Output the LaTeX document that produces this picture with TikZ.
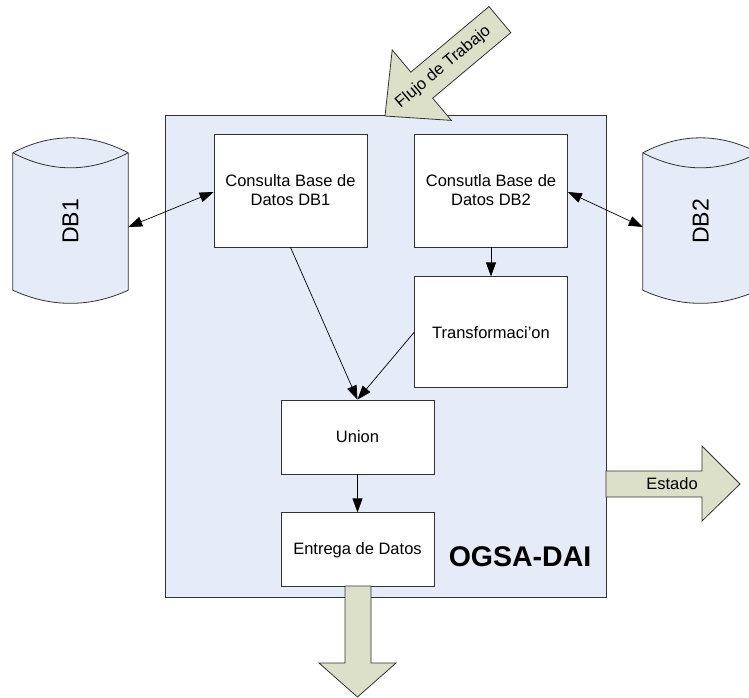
\documentclass[tikz,border=0pt]{standalone}
\usepackage{fontspec}
\setmainfont{Liberation Sans}
\usetikzlibrary{arrows.meta,positioning,calc}
\definecolor{panel}{HTML}{E5ECF7}
\definecolor{olive}{HTML}{DDE0C8}
\definecolor{edge}{HTML}{333333}

\begin{document}
\begin{tikzpicture}[x=1pt,y=-1pt,
  box/.style={draw=edge,line width=0.8pt,fill=white,minimum width=153pt,minimum height=113pt,
    inner sep=0pt,align=center,font=\fontsize{16.5}{19}\selectfont},
  flow/.style={-{Triangle[length=14pt,width=10pt]},line width=0.7pt},
  both/.style={{Triangle[length=14pt,width=10pt]}-{Triangle[length=14pt,width=10pt]},line width=0.7pt},
  bigarrow/.style={draw=edge,line width=0.8pt,fill=olive},
  cyl/.style={draw=edge,line width=0.8pt,fill=panel}]
  \useasboundingbox (0,0) rectangle (749,697);
  \clip (0,0) rectangle (749,697);

  % container
  \node[draw=edge,line width=1pt,fill=panel,minimum width=441pt,minimum height=482pt,inner sep=0pt] (ogsa) at (385.5,356) {};
  \node[font=\bfseries\fontsize{28.5}{30}\selectfont] (ogsalbl) at (520,557) {OGSA-DAI};

  % boxes
  \node[box] (c1) at (290.5,190.5) {Consulta Base de\\Datos DB1};
  \node[box] (c2) at (491,190.5) {Consutla Base de\\Datos DB2};
  \node[box,minimum height=111pt,below=29pt of c2] (tr) {Transformaci'on};
  \node[box,minimum height=74pt] (un) at (357.5,437) {Union};
  \node[box,minimum height=74pt,below=38pt of un] (en) {Entrega de Datos};

  % databases
  \foreach \n/\x/\t in {db1/70.5/DB1,db2/700.5/DB2} {
    \node[minimum width=115pt,minimum height=137pt,inner sep=0pt] (\n) at (\x,221.5) {};
    \filldraw[cyl] (\n.north west) .. controls +(38,-20) and +(-38,-20) .. (\n.north east)
      -- (\n.south east) .. controls +(-38,17.5) and +(38,17.5) .. (\n.south west) -- cycle;
    \draw[cyl,fill=none] (\n.north west) .. controls +(38,20) and +(-38,20) .. (\n.north east);
    \node[font=\fontsize{23}{25}\selectfont] at (\n) {\rotatebox{90}{\t}};
  }

  \draw[both] ([yshift=-5.5pt]db1.east) -- ([yshift=-1.5pt]c1.west);
  \draw[both] ([yshift=-1.5pt]c2.east) -- ([yshift=-5.5pt]db2.west);
  \draw[flow] (c1.south) -- (un.north);
  \draw[flow] (tr.west) -- (un.north);
  \draw[flow] (c2.south) -- (tr.north);
  \draw[flow] (un.south) -- (en.north);

  % big arrows
  \begin{scope}[shift={(385,116)},rotate=40]
    \filldraw[bigarrow] (0,0) -- (48,-46) -- (48,-17) -- (150,-17) -- (150,17) -- (48,17) -- (48,46) -- cycle;
    \node[rotate=40,font=\fontsize{16.5}{19}\selectfont] (flujo) at (76,0) {Flujo de Trabajo};
  \end{scope}
  \filldraw[bigarrow] (606,471) -- (702,471) -- (702,446) -- (740,484) -- (702,521) -- (702,497) -- (606,497) -- cycle;
  \node[font=\fontsize{16.5}{19}\selectfont] (estado) at (672,484) {Estado};
  \filldraw[bigarrow] (345,586) -- (345,663) -- (319,663) -- (357.5,697) -- (396,663) -- (371,663) -- (371,586) -- cycle;
\end{tikzpicture}
\end{document}
